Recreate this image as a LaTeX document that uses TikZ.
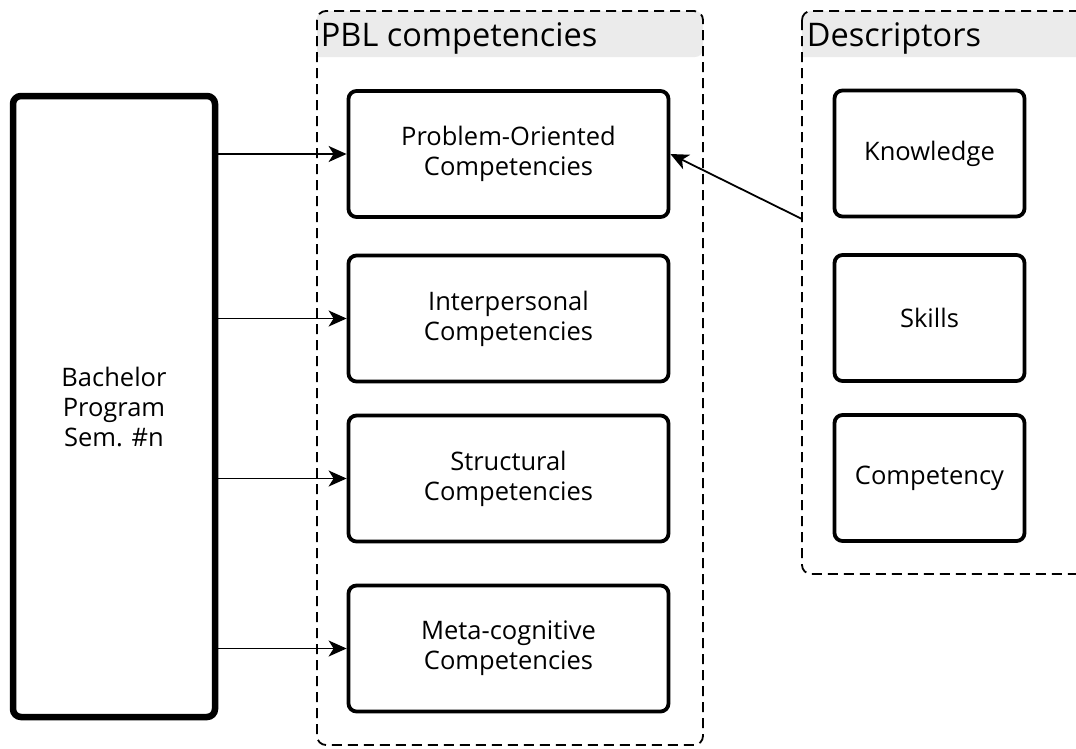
\documentclass[tikz,border=0pt]{standalone}
\usepackage{fontspec}
\setmainfont{Open Sans}
\usetikzlibrary{arrows.meta}
\definecolor{headgray}{HTML}{EBEBEB}

\begin{document}
\begin{tikzpicture}[x=1pt,y=-1pt,->,>={Stealth[length=18pt,width=16pt,inset=5pt]},
  line width=1.8pt,
  box/.style={draw, line width=3.8pt, rounded corners=8pt, align=center,
    font=\fontsize{25.5}{30}\selectfont},
  comp node/.style={box, minimum width=320pt, minimum height=126pt},
  desc node/.style={box, minimum width=190pt, minimum height=126pt},
  group box/.style={draw, dash pattern=on 10pt off 6pt, line width=1.8pt, rounded corners=9pt},
  group title/.style={anchor=base west, inner sep=0pt, font=\fontsize{32.5}{32}\selectfont}]
  \useasboundingbox (0,0) rectangle (1076,748);
  % containers
  \fill[headgray] (317,57) [rounded corners=8pt] -- (317,11) -- (703,11) -- (703,57) [sharp corners] -- cycle;
  \fill[headgray] (802,57) [rounded corners=8pt] -- (802,11) -- (1100,11) -- (1100,57) [sharp corners] -- cycle;
  \draw[group box, -] (317,11) rectangle (703,745);
  \draw[group box, -] (802,11) rectangle (1100,574);
  \node[group title] (pbltitle) at (320,46) {PBL competencies};
  \node[group title] (desctitle) at (806,46) {Descriptors};
  % boxes
  \node[box, line width=6.5pt, minimum width=202pt, minimum height=621pt] (bachelor) at (114,406.5) {Bachelor\\Program\\Sem. \#n};
  \node[comp node] (problem) at (508.5,154) {Problem-Oriented\\Competencies};
  \node[comp node] (interpersonal) at (508.5,318.5) {Interpersonal\\Competencies};
  \node[comp node] (structural) at (508.5,478.5) {Structural\\Competencies};
  \node[comp node] (metacog) at (508.5,648.5) {Meta-cognitive\\Competencies};
  \node[desc node] (knowledge) at (929.5,153.5) {Knowledge};
  \node[desc node] (skills) at (929.5,318) {Skills};
  \node[desc node] (competency) at (929.5,478) {Competency};
  \coordinate (descleft) at (802,219);
  % connectors
  \path
    (bachelor.east |- problem) edge (problem)
    (bachelor.east |- interpersonal) edge (interpersonal)
    (bachelor.east |- structural) edge (structural)
    (bachelor.east |- metacog) edge (metacog)
    (descleft) edge (problem.east);
\end{tikzpicture}
\end{document}
